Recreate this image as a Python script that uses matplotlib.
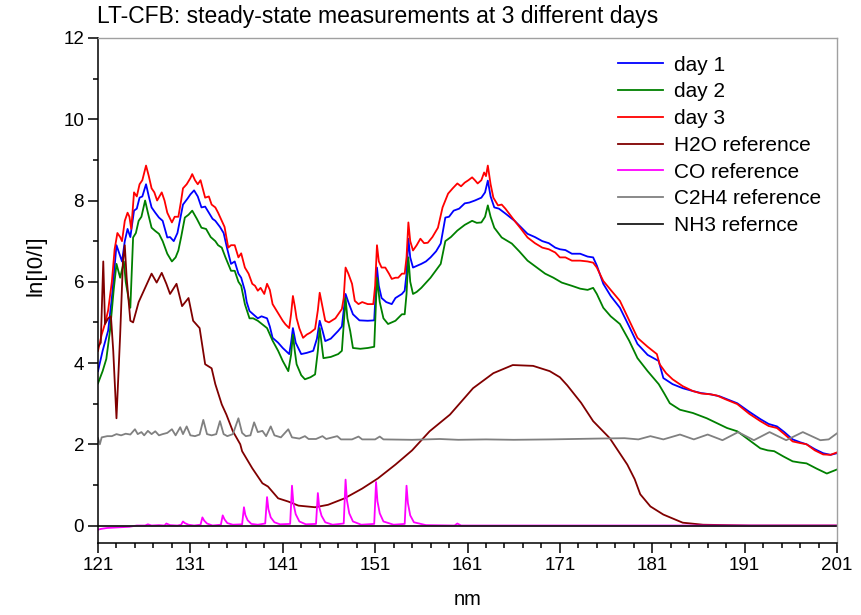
import numpy as np
import matplotlib
matplotlib.use('Agg')
import matplotlib.pyplot as plt
from matplotlib.ticker import FixedLocator

plt.rcParams['font.family'] = ['Liberation Sans', 'DejaVu Sans']

# measured spectra, ln[I0/I] against wavelength in nm
day1_nm = [121.0, 121.5, 122.1, 122.5, 123.0, 123.3, 123.6, 123.9, 124.2, 124.5,
           124.9, 125.2, 125.5, 125.8, 126.2, 126.5, 126.8, 127.2, 127.6, 128.0,
           128.5, 128.8, 129.2, 129.6, 130.2, 130.7, 131.0, 131.4, 131.8, 132.2,
           132.6, 133.0, 133.4, 133.7, 134.2, 134.6, 135.0, 135.4, 135.8, 136.2,
           136.5, 136.9, 137.1, 137.4, 137.8, 138.3, 138.7, 139.3, 139.6, 139.9,
           140.5, 141.0, 141.7, 141.9, 142.1, 142.4, 143.0, 143.6, 144.3, 144.7,
           145.0, 145.3, 145.6, 146.2, 147.0, 147.4, 147.8, 148.1, 148.6, 149.3,
           150.2, 150.9, 151.2, 151.4, 151.7, 152.2, 152.8, 153.2, 153.9, 154.2,
           154.4, 154.6, 154.8, 155.1, 155.6, 156.0, 156.5, 157.0, 157.6, 158.1,
           158.6, 159.0, 159.5, 160.1, 160.7, 161.2, 161.8, 162.5, 162.9, 163.2,
           163.5, 163.9, 164.4, 165.1, 166.1, 167.5, 168.3, 169.1, 169.8, 170.5,
           171.0, 171.6, 172.3, 173.2, 174.0, 174.6, 175.0, 175.7, 176.5, 177.5,
           178.5, 179.4, 180.5, 181.7, 182.2, 183.2, 184.3, 185.4, 186.3, 187.3,
           188.3, 189.2, 190.2, 191.5, 192.7, 193.6, 194.5, 195.3, 196.2, 197.0,
           197.7, 198.6, 199.5, 200.3, 201.0]
day1_val = [3.8, 4.3, 4.8, 5.6, 6.9, 6.7, 6.5, 7.0, 7.3, 7.1,
            7.75, 7.8, 8.07, 8.1, 8.4, 8.1, 7.83, 7.7, 7.58, 7.5,
            7.09, 7.1, 7.0, 7.2, 7.9, 8.05, 8.15, 8.25, 8.1, 7.83,
            7.85, 7.7, 7.55, 7.5, 7.35, 7.2, 6.8, 6.44, 6.5, 6.2,
            6.1, 5.78, 5.5, 5.28, 5.2, 5.1, 5.15, 5.1, 4.9, 4.62,
            4.5, 4.37, 4.22, 4.5, 4.86, 4.5, 4.22, 4.25, 4.3, 4.6,
            5.04, 4.8, 4.54, 4.6, 4.79, 4.9, 5.7, 5.5, 5.2, 5.05,
            5.04, 5.05, 6.35, 5.9, 5.6, 5.5, 5.45, 5.6, 5.7, 5.78,
            6.2, 7.06, 6.6, 6.35, 6.4, 6.44, 6.5, 6.6, 6.75, 6.94,
            7.58, 7.6, 7.75, 7.8, 7.93, 7.95, 8.0, 8.07, 8.2, 8.49,
            8.1, 7.83, 7.8, 7.68, 7.5, 7.18, 7.1, 7.0, 6.95, 6.84,
            6.8, 6.78, 6.69, 6.69, 6.62, 6.6, 6.4, 5.95, 5.65, 5.36,
            4.9, 4.47, 4.2, 4.05, 3.63, 3.48, 3.38, 3.31, 3.26, 3.23,
            3.18, 3.1, 3.01, 2.8, 2.62, 2.5, 2.44, 2.3, 2.12, 2.05,
            2.0, 1.88, 1.78, 1.74, 1.78]

day2_nm = [121.0, 121.5, 121.9, 122.3, 122.7, 123.0, 123.4, 123.8, 124.0, 124.3,
           124.5, 124.8, 125.1, 125.4, 125.7, 126.1, 126.4, 126.8, 127.2, 127.6,
           128.0, 128.5, 129.0, 129.4, 129.7, 130.0, 130.4, 130.8, 131.2, 131.7,
           132.2, 132.7, 133.2, 133.7, 134.0, 134.4, 134.8, 135.4, 135.8, 136.2,
           136.5, 136.9, 137.4, 137.8, 138.3, 138.8, 139.3, 139.9, 140.5, 141.0,
           141.6, 141.9, 142.1, 142.3, 142.5, 143.0, 143.4, 144.0, 144.5, 144.8,
           145.0, 145.2, 145.4, 146.2, 147.0, 147.4, 147.8, 148.0, 148.3, 148.6,
           149.4, 150.2, 150.9, 151.2, 151.5, 151.9, 152.4, 153.2, 153.9, 154.2,
           154.4, 154.6, 154.8, 155.1, 155.5, 156.0, 157.0, 158.1, 158.6, 159.2,
           159.9, 160.7, 161.5, 162.0, 162.5, 162.9, 163.2, 163.5, 163.9, 164.7,
           165.8, 166.6, 167.5, 168.5, 169.4, 170.3, 171.2, 172.3, 173.2, 174.0,
           174.6, 175.0, 175.7, 176.5, 177.5, 178.5, 179.4, 180.5, 181.7, 182.3,
           182.9, 184.0, 185.4, 186.9, 188.0, 189.1, 190.2, 191.5, 192.7, 193.5,
           194.2, 195.2, 196.2, 197.0, 197.7, 198.8, 199.9, 201.0]
day2_val = [3.5, 3.8, 4.1, 4.8, 5.8, 6.44, 6.1, 6.5, 6.0, 5.6,
            5.36, 7.09, 7.2, 7.5, 7.6, 8.0, 7.7, 7.33, 7.25, 7.18,
            7.0, 6.69, 6.5, 6.6, 6.77, 7.1, 7.58, 7.65, 7.75, 7.55,
            7.33, 7.3, 7.1, 7.0, 6.9, 6.84, 6.6, 6.27, 6.27, 6.0,
            5.9, 5.45, 5.1, 5.1, 5.04, 4.95, 4.86, 4.55, 4.3, 4.05,
            3.8, 4.2, 4.7, 4.3, 3.97, 3.7, 3.6, 3.65, 3.72, 4.3,
            4.86, 4.5, 4.12, 4.15, 4.22, 4.3, 5.6, 5.1, 4.79, 4.37,
            4.35, 4.37, 4.4, 6.1, 5.5, 5.1, 4.96, 5.04, 5.2, 5.2,
            5.7, 6.6, 6.0, 5.7, 5.75, 5.85, 6.1, 6.44, 7.0, 7.1,
            7.26, 7.4, 7.5, 7.45, 7.46, 7.6, 7.88, 7.6, 7.33, 7.09,
            6.94, 6.75, 6.52, 6.35, 6.2, 6.1, 5.98, 5.9, 5.83, 5.8,
            5.85, 5.7, 5.36, 5.15, 4.96, 4.55, 4.12, 3.8, 3.48, 3.25,
            3.01, 2.85, 2.77, 2.64, 2.52, 2.4, 2.32, 2.1, 1.9, 1.85,
            1.83, 1.7, 1.58, 1.55, 1.53, 1.4, 1.28, 1.38]

day3_nm = [121.0, 121.4, 121.8, 122.1, 122.5, 122.8, 123.1, 123.4, 123.6, 123.9,
           124.2, 124.4, 124.6, 124.9, 125.2, 125.5, 125.8, 126.2, 126.5, 126.8,
           127.1, 127.4, 127.9, 128.2, 128.5, 129.0, 129.3, 129.7, 130.0, 130.2,
           130.6, 131.0, 131.2, 131.5, 131.8, 132.1, 132.6, 133.0, 133.3, 133.7,
           134.0, 134.4, 134.7, 135.1, 135.4, 135.8, 136.2, 136.5, 136.9, 137.3,
           137.7, 138.0, 138.3, 138.6, 139.0, 139.3, 139.6, 139.9, 140.3, 140.7,
           141.0, 141.3, 141.7, 141.9, 142.1, 142.3, 142.5, 142.8, 143.2, 143.6,
           144.0, 144.5, 144.8, 145.0, 145.2, 145.6, 146.0, 146.7, 147.0, 147.4,
           147.6, 147.8, 148.1, 148.5, 148.8, 149.2, 149.6, 150.2, 150.8, 151.0,
           151.2, 151.4, 151.7, 152.1, 152.5, 152.8, 153.2, 153.5, 153.9, 154.2,
           154.4, 154.6, 154.8, 155.1, 155.5, 155.9, 156.3, 156.7, 157.2, 157.8,
           158.3, 158.6, 158.9, 159.4, 159.9, 160.3, 160.7, 161.1, 161.5, 161.8,
           162.1, 162.5, 162.8, 163.0, 163.2, 163.5, 163.8, 164.3, 164.7, 165.1,
           165.6, 166.1, 166.8, 167.5, 168.3, 169.1, 169.8, 170.5, 171.0, 171.6,
           172.3, 173.2, 174.0, 174.6, 175.0, 175.7, 176.5, 177.5, 178.5, 179.4,
           180.5, 181.5, 181.8, 182.5, 183.2, 184.3, 185.4, 186.3, 187.3, 188.0,
           189.0, 190.2, 191.5, 192.7, 193.6, 194.5, 195.3, 196.2, 197.0, 197.7,
           198.6, 199.5, 200.3, 201.0]
day3_val = [4.3, 4.7, 5.0, 5.3, 6.0, 6.8, 7.2, 7.1, 7.0, 7.5,
            7.7, 7.6, 7.3, 8.2, 8.1, 8.4, 8.5, 8.86, 8.6, 8.3,
            8.2, 8.0, 8.2, 8.0, 7.7, 7.46, 7.6, 7.6, 8.0, 8.3,
            8.4, 8.55, 8.65, 8.5, 8.4, 8.5, 8.07, 8.1, 7.9, 7.83,
            7.7, 7.5, 7.35, 6.84, 6.9, 6.9, 6.6, 6.7, 6.35, 6.2,
            5.95, 5.9, 5.78, 5.85, 5.7, 5.95, 5.8, 5.45, 5.3, 5.15,
            5.04, 4.95, 4.86, 5.2, 5.65, 5.4, 5.1, 4.85, 4.62, 4.7,
            4.75, 4.84, 5.3, 5.73, 5.5, 5.04, 5.0, 5.1, 5.2, 5.33,
            5.6, 6.35, 6.2, 5.95, 5.53, 5.45, 5.5, 5.45, 5.45, 5.9,
            6.9, 6.5, 6.35, 6.35, 6.2, 6.07, 6.1, 6.1, 6.2, 6.2,
            6.6, 7.46, 7.0, 6.77, 6.9, 7.06, 6.95, 6.96, 7.1, 7.33,
            7.83, 8.0, 8.17, 8.3, 8.42, 8.35, 8.44, 8.5, 8.57, 8.5,
            8.42, 8.5, 8.69, 8.6, 8.86, 8.4, 8.07, 7.88, 7.9, 7.8,
            7.65, 7.5, 7.3, 7.09, 6.95, 6.84, 6.8, 6.72, 6.6, 6.6,
            6.52, 6.52, 6.5, 6.47, 6.35, 6.02, 5.8, 5.53, 5.05, 4.62,
            4.4, 4.22, 3.97, 3.75, 3.6, 3.43, 3.31, 3.25, 3.23, 3.2,
            3.1, 2.99, 2.75, 2.57, 2.45, 2.4, 2.25, 2.07, 2.03, 2.0,
            1.85, 1.75, 1.74, 1.8]

# reference absorption spectra
h2o_nm = [121.0, 121.3, 121.57, 121.76, 122.1, 122.4, 122.65, 123.0, 123.4, 123.7,
          123.9, 124.1, 124.5, 124.8, 125.4, 126.1, 126.8, 127.35, 127.9, 128.4,
          128.8, 129.5, 130.1, 130.8, 131.3, 132.0, 132.6, 133.3, 133.7, 134.4,
          134.9, 135.6, 136.4, 136.6, 137.7, 138.8, 139.4, 140.5, 141.6, 142.7,
          144.5, 145.9, 147.7, 149.6, 151.3, 153.2, 155.0, 156.9, 159.1, 161.6,
          163.8, 165.9, 168.1, 169.9, 171.0, 171.8, 173.3, 174.6, 176.4, 178.3,
          179.1, 179.7, 180.8, 182.2, 184.3, 186.5, 191.6, 201.0]
h2o_val = [4.4, 4.5, 6.5, 4.96, 5.1, 5.15, 4.3, 2.64, 4.7, 6.5,
           6.9, 6.1, 5.04, 5.0, 5.5, 5.85, 6.2, 5.98, 6.22, 5.95,
           5.7, 5.95, 5.4, 5.6, 5.04, 4.86, 3.97, 3.87, 3.48, 2.98,
           2.73, 2.32, 2.0, 1.83, 1.41, 1.04, 0.96, 0.67, 0.59, 0.49,
           0.45, 0.51, 0.67, 0.91, 1.16, 1.5, 1.85, 2.32, 2.73, 3.38,
           3.75, 3.95, 3.93, 3.8, 3.65, 3.45, 3.02, 2.57, 2.15, 1.5,
           1.14, 0.77, 0.47, 0.27, 0.07, 0.02, 0.0, 0.0]

co_nm = [121.0, 121.4, 122.0, 122.8, 123.6, 124.4, 125.2, 126.1, 126.4, 126.8,
         127.6, 128.2, 128.4, 128.8, 129.6, 130.0, 130.2, 130.4, 130.8, 131.4,
         132.1, 132.3, 132.5, 132.8, 133.4, 134.3, 134.5, 134.7, 135.0, 135.6,
         136.6, 136.8, 136.95, 137.2, 137.6, 138.3, 139.1, 139.3, 139.45, 139.7,
         140.1, 140.7, 141.8, 142.0, 142.15, 142.4, 142.8, 143.5, 144.6, 144.8,
         144.95, 145.2, 145.6, 146.4, 147.6, 147.8, 147.95, 148.2, 148.6, 149.5,
         150.9, 151.1, 151.25, 151.5, 151.9, 153.0, 154.2, 154.4, 154.55, 154.8,
         155.2, 156.5, 159.6, 159.9, 160.3, 163.0, 201.0]
co_val = [-0.1, -0.08, -0.06, -0.05, -0.04, -0.03, 0.0, 0.0, 0.03, 0.0,
          0.01, 0.0, 0.05, 0.01, 0.0, 0.02, 0.1, 0.06, 0.02, 0.0,
          0.02, 0.2, 0.12, 0.05, 0.0, 0.02, 0.25, 0.15, 0.06, 0.02,
          0.03, 0.45, 0.26, 0.13, 0.04, 0.02, 0.05, 0.7, 0.4, 0.2,
          0.08, 0.03, 0.04, 0.98, 0.55, 0.28, 0.1, 0.03, 0.04, 0.8,
          0.45, 0.24, 0.08, 0.02, 0.05, 1.13, 0.62, 0.3, 0.1, 0.02,
          0.04, 1.07, 0.6, 0.3, 0.1, 0.02, 0.04, 0.98, 0.55, 0.25,
          0.08, 0.01, 0.0, 0.05, 0.0, 0.0, 0.0]

c2h4_nm = [121.0, 121.2, 121.4, 122.0, 122.5, 123.0, 123.5, 124.0, 124.5, 125.0,
           125.3, 125.7, 126.0, 126.4, 126.8, 127.2, 127.6, 128.0, 128.5, 129.0,
           129.4, 129.9, 130.2, 130.6, 131.0, 131.5, 132.0, 132.4, 132.8, 133.3,
           133.8, 134.2, 134.6, 135.0, 135.6, 136.2, 136.6, 137.0, 137.5, 137.9,
           138.3, 138.8, 139.2, 139.7, 140.1, 140.8, 141.6, 142.0, 142.8, 143.4,
           143.8, 144.6, 145.3, 145.7, 146.9, 147.3, 148.5, 149.2, 149.6, 151.0,
           151.5, 151.9, 155.0, 158.0, 160.0, 163.0, 166.0, 170.0, 175.0, 178.0,
           179.5, 180.8, 182.2, 184.0, 185.5, 187.0, 188.6, 190.3, 192.0, 193.7,
           195.5, 197.3, 199.2, 200.1, 201.0]
c2h4_val = [2.15, 2.0, 2.17, 2.2, 2.2, 2.25, 2.22, 2.26, 2.24, 2.37,
            2.25, 2.3, 2.22, 2.33, 2.25, 2.32, 2.22, 2.25, 2.28, 2.37,
            2.22, 2.42, 2.25, 2.44, 2.22, 2.2, 2.24, 2.6, 2.25, 2.22,
            2.25, 2.57, 2.25, 2.2, 2.25, 2.64, 2.28, 2.2, 2.22, 2.54,
            2.3, 2.33, 2.2, 2.44, 2.22, 2.17, 2.37, 2.17, 2.14, 2.2,
            2.13, 2.13, 2.2, 2.13, 2.2, 2.12, 2.12, 2.19, 2.12, 2.12,
            2.19, 2.12, 2.11, 2.13, 2.11, 2.12, 2.11, 2.12, 2.14, 2.15,
            2.12, 2.2, 2.12, 2.24, 2.12, 2.24, 2.1, 2.3, 2.1, 2.3,
            2.1, 2.3, 2.1, 2.12, 2.27]

nh3_nm = [121.0, 201.0]
nh3_val = [0.0, 0.0]

x_major = [121, 131, 141, 151, 161, 171, 181, 191, 201]
x_minor = [123, 125, 127, 129, 133, 135, 137, 139, 143, 145, 147, 149,
           153, 155, 157, 159, 163, 165, 167, 169, 173, 175, 177, 179,
           183, 185, 187, 189, 193, 195, 197, 199]
y_major = [0, 2, 4, 6, 8, 10, 12]
y_minor = [1, 3, 5, 7, 9, 11]

series = [
    (day1_nm, day1_val, '#0000ff', 'day 1'),
    (day2_nm, day2_val, '#008000', 'day 2'),
    (day3_nm, day3_val, '#ff0000', 'day 3'),
    (h2o_nm, h2o_val, '#800000', 'H2O reference'),
    (co_nm, co_val, '#ff00ff', 'CO reference'),
    (c2h4_nm, c2h4_val, '#808080', 'C2H4 reference'),
    (nh3_nm, nh3_val, '#1a1a1a', 'NH3 refernce'),
]

fig = plt.figure(figsize=(8.61, 6.15), dpi=100)
ax = fig.add_axes([98 / 861, 1 - 543 / 615, 739 / 861, 505 / 615])

for xs, ys, col, lab in series:
    ax.plot(xs, ys, color=col, lw=1.3, label=lab)

ax.set_xlim(121, 201)
ax.set_ylim(-0.43, 12)
ax.xaxis.set_major_locator(FixedLocator(x_major))
ax.xaxis.set_minor_locator(FixedLocator(x_minor))
ax.yaxis.set_major_locator(FixedLocator(y_major))
ax.yaxis.set_minor_locator(FixedLocator(y_minor))
ax.tick_params(which='both', direction='out', width=1.1, labelsize=13.5,
               top=False, right=False)
ax.tick_params(which='major', length=7, pad=3)
ax.tick_params(which='minor', length=3.5)

for side in ['left', 'bottom']:
    ax.spines[side].set_linewidth(1.1)
for side in ['top', 'right']:
    ax.spines[side].set_color('#a0a0a0')
    ax.spines[side].set_linewidth(1.0)

ax.set_xlabel('nm', fontsize=14.5)
ax.set_ylabel('ln[I0/I]', fontsize=16)
ax.yaxis.set_label_coords(-0.07, 0.55)
ax.xaxis.set_label_coords(0.5, -0.093)

fig.text(97 / 861, 1 - 17 / 615, 'LT-CFB: steady-state measurements at 3 different days',
         fontsize=16.5, ha='left', va='center')

ax.legend(loc='upper left', bbox_to_anchor=(0.703, 0.965), frameon=False,
          fontsize=15, handlelength=2.2, handletextpad=0.5,
          labelspacing=0.37, borderpad=0, borderaxespad=0)

fig.savefig('out.png', dpi=100)
